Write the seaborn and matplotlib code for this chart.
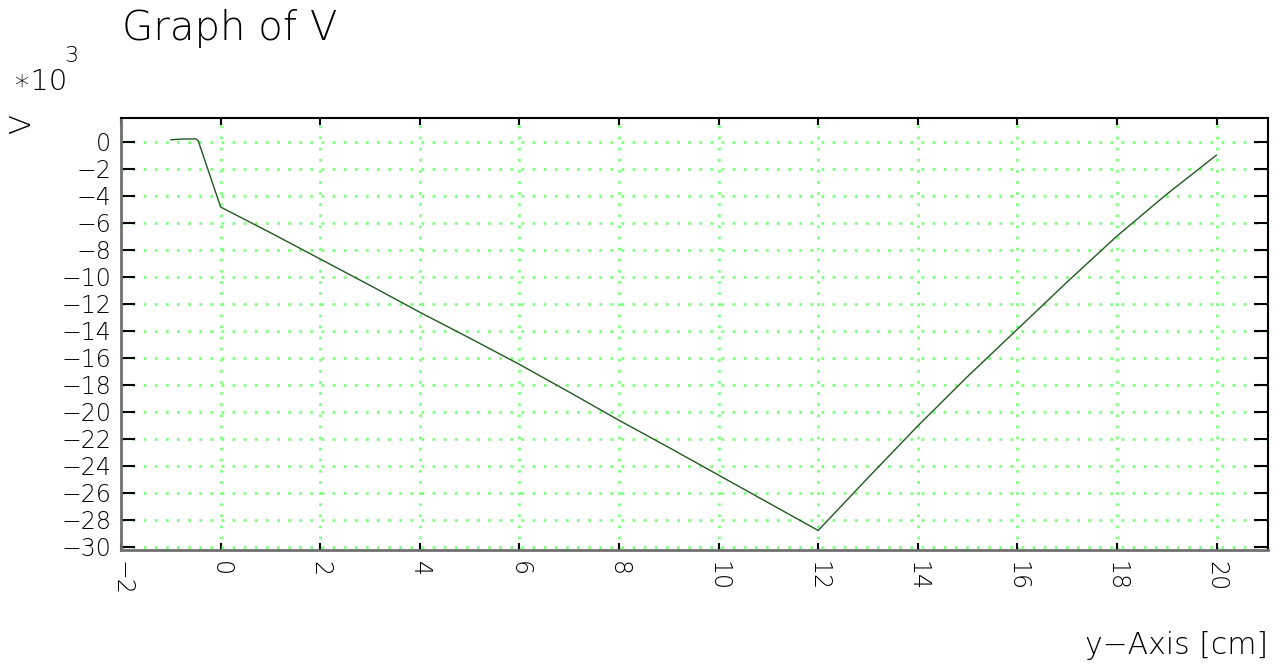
import matplotlib
matplotlib.use("Agg")
import matplotlib.pyplot as plt
import seaborn as sns
import numpy as np
import pandas as pd

# Data (V in units of 10^3)
y_cm = [-1.0, -0.8, -0.5, -0.45, 0, 1, 2, 3, 4, 5, 6, 7, 8, 9, 10, 11, 12,
        13, 14, 15, 16, 17, 18, 19, 20]
v_k = [0.13, 0.18, 0.2, 0.05, -4.85, -6.75, -8.7, -10.65, -12.64, -14.55, -16.5,
       -18.55, -20.64, -22.65, -24.7, -26.75, -28.8,
       -24.9, -21.06, -17.4, -13.9, -10.4, -7.0, -3.9, -1.0]
x_ticks = list(range(-2, 21, 2))
y_ticks = list(range(-30, 1, 2))

sns.set_style("white")
plt.rcParams['font.family'] = ['DejaVu Sans']
plt.rcParams['font.weight'] = 'light'
plt.rcParams['text.color'] = 'black'

df = pd.DataFrame({"y": y_cm, "V": v_k})

fig = plt.figure(figsize=(12.77, 6.70), dpi=100)
ax = fig.add_axes([0.0948, 0.179, 0.898, 0.645])

sns.lineplot(data=df, x="y", y="V", ax=ax, color="#1f5a1f", linewidth=1.0,
             sort=False, estimator=None)

def lab(t):
    return str(t).replace("-", "\u2212")

ax.set_xlim(-2, 21.03)
ax.set_ylim(-30.25, 1.75)
ax.set_xticks(x_ticks)
ax.set_yticks(y_ticks)
ax.set_xticklabels([lab(t) for t in x_ticks], rotation=-90, fontsize=17,
                   fontweight='light', color='black')
ax.set_yticklabels([lab(t) for t in y_ticks], fontsize=17, fontweight='light',
                   color='black')

ax.grid(True, color="#80ff80", linestyle=(0, (1, 3)), linewidth=2)
ax.set_axisbelow(True)

ax.tick_params(axis='y', which='both', direction='in', length=10, width=1.5,
               left=True, right=True, pad=7, colors='black')
ax.tick_params(axis='x', which='both', direction='in', length=5, width=1.5,
               bottom=True, top=True, pad=8, colors='black')

for side in ['left', 'bottom']:
    ax.spines[side].set_color('#707070')
    ax.spines[side].set_linewidth(2)
for side in ['top', 'right']:
    ax.spines[side].set_color('black')
    ax.spines[side].set_linewidth(1.5)

ax.set_xlabel("")
ax.set_ylabel("")

fig.text(122/1277, 1 - 28/670, "Graph of V", fontsize=29, fontweight='light',
         ha='left', va='center', color='black')
fig.text(12/1277, 1 - 82/670, "\u221710", fontsize=21, fontweight='light',
         ha='left', va='center', color='black')
fig.text(64/1277, 1 - 56/670, "3", fontsize=16, fontweight='light',
         ha='left', va='center', color='black')
fig.text(22/1277, 1 - 124/670, "V", fontsize=21, fontweight='light',
         ha='center', va='center', rotation=90, color='black')
fig.text(1268/1277, 1 - 645/670, "y\u2212Axis [cm]", fontsize=21.5,
         fontweight='light', ha='right', va='center', color='black')

fig.savefig("out.png", dpi=100)
